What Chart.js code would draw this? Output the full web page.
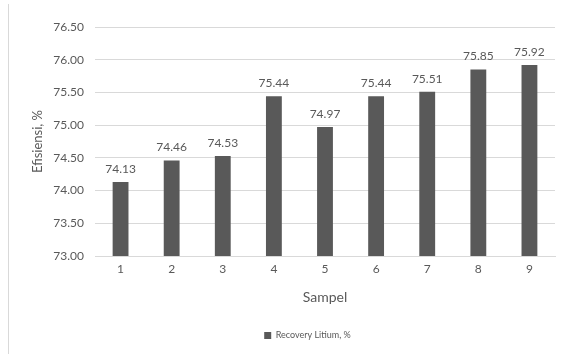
<!DOCTYPE html>
<html>
<head>
<meta charset="utf-8">
<script src="https://cdn.jsdelivr.net/npm/chart.js@4"></script>
<style>
  html, body { margin: 0; padding: 0; background: #fff; }
  #wrap { position: relative; width: 569px; height: 354px; }
  #frame { position: absolute; left: 8px; top: 4px; width: 1px; height: 350px; background: #d9d9d9; }
</style>
</head>
<body>
<div id="wrap">
  <div id="frame"></div>
  <canvas id="chart" width="569" height="354"></canvas>
</div>
<script>
const samples = ['1', '2', '3', '4', '5', '6', '7', '8', '9'];
const recovery = [74.13, 74.46, 74.53, 75.44, 74.97, 75.44, 75.51, 75.85, 75.92];
const seriesName = 'Recovery Litium, %';

const grey = '#595959';

// values printed over each bar
const barLabels = {
  id: 'barLabels',
  afterDatasetsDraw(chart) {
    const ctx = chart.ctx;
    ctx.save();
    ctx.font = '12px Lato';
    ctx.fillStyle = grey;
    ctx.textAlign = 'center';
    ctx.textBaseline = 'bottom';
    chart.getDatasetMeta(0).data.forEach((bar, i) => {
      ctx.fillText(recovery[i].toFixed(2), bar.x, bar.y - 7);
    });
    ctx.restore();
  }
};

// legend sits a bit right of the canvas centre, under the plot area
const legendShift = {
  id: 'legendShift',
  afterLayout(chart) {
    chart.legend.left += 26;
    chart.legend.right += 26;
  }
};

new Chart(document.querySelector('#chart').getContext('2d'), {
  type: 'bar',
  data: {
    labels: samples,
    datasets: [{
      label: seriesName,
      data: recovery,
      backgroundColor: grey,
      barPercentage: 0.31,
      categoryPercentage: 1
    }]
  },
  options: {
    responsive: false,
    animation: false,
    layout: { padding: { left: 8, right: 14, top: 27, bottom: 4 } },
    plugins: {
      tooltip: { enabled: false },
      legend: {
        position: 'bottom',
        labels: {
          color: grey,
          font: { family: 'Lato', size: 9 },
          boxWidth: 7,
          boxHeight: 7,
          padding: 11
        }
      }
    },
    scales: {
      x: {
        grid: { display: false, drawTicks: false },
        border: { color: '#d9d9d9' },
        ticks: { color: grey, font: { family: 'Lato', size: 12 }, padding: 6 },
        title: { display: true, text: 'Sampel', color: grey, font: { family: 'Lato', size: 14 }, padding: { top: 0, bottom: 14 } },
        afterFit: scale => { scale.height = 64; }
      },
      y: {
        min: 73,
        max: 76.5,
        grid: { color: '#d9d9d9', drawTicks: false },
        border: { display: false },
        ticks: {
          stepSize: 0.5,
          color: grey,
          font: { family: 'Lato', size: 12 },
          padding: 11,
          callback: v => Number(v).toFixed(2)
        },
        title: { display: true, text: 'Efisiensi, %', color: grey, font: { family: 'Lato', size: 13 }, padding: { top: 22, bottom: 0 } },
        afterFit: scale => { scale.width = 87; }
      }
    }
  },
  plugins: [barLabels, legendShift]
});
</script>
</body>
</html>
